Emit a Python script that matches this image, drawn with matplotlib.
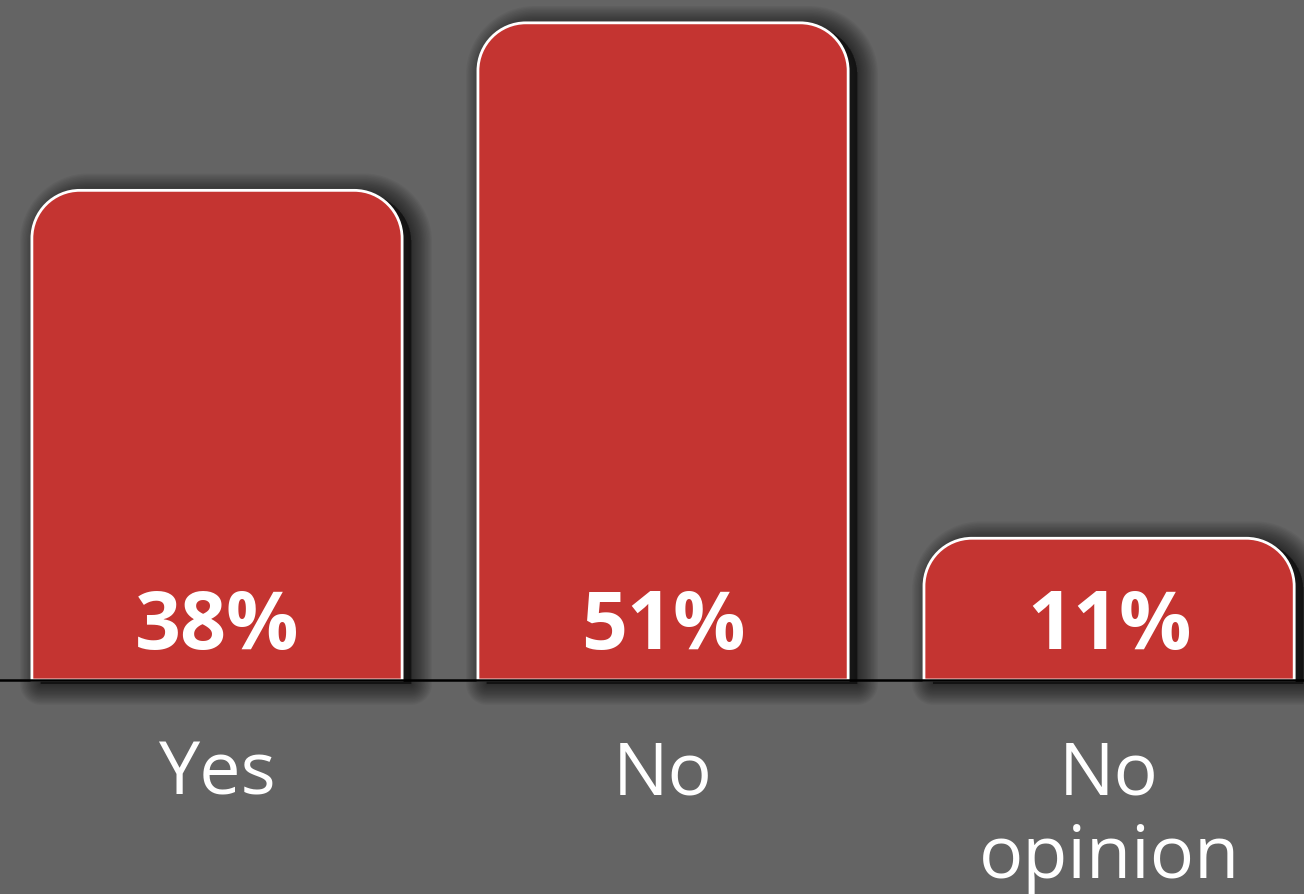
import numpy as np
import matplotlib
matplotlib.use('Agg')
import matplotlib.pyplot as plt
from matplotlib.path import Path
from matplotlib.patches import PathPatch
import matplotlib.transforms as mtransforms

categories = ['Yes', 'No', 'No\nopinion']
values = [38, 51, 11]
value_labels = ['38%', '51%', '11%']

bg = '#646464'
red = '#c43431'

plt.rcParams['font.family'] = ['Open Sans', 'DejaVu Sans']

fig = plt.figure(figsize=(13.04, 8.95), dpi=100, facecolor=bg)
ax = fig.add_axes([0, 0.2391, 1, 0.7609])
ax.set_facecolor(bg)

x = np.arange(len(categories))
bars = ax.bar(x, values, width=0.83)
ax.set_xlim(-0.4865, 2.437)
ax.set_ylim(0, 52.85)
for s in ['top', 'left', 'right']:
    ax.spines[s].set_visible(False)
ax.spines['bottom'].set_color('black')
ax.spines['bottom'].set_linewidth(1.8)
ax.spines['bottom'].set_zorder(5)
ax.set_xticks([])
ax.set_yticks([])

# pixel size of one data unit, used for round corners
p0 = ax.transData.transform((0, 0))
p1 = ax.transData.transform((1, 1))
r_px = 48
rx = r_px / (p1[0] - p0[0])
ry = r_px / (p1[1] - p0[1])
k = 0.5523


def rounded_top(x0, w, h):
    x1 = x0 + w
    verts = [
        (x0, 0), (x0, h - ry),
        (x0, h - ry + k * ry), (x0 + rx - k * rx, h), (x0 + rx, h),
        (x1 - rx, h),
        (x1 - rx + k * rx, h), (x1, h - ry + k * ry), (x1, h - ry),
        (x1, 0), (x0, 0),
    ]
    codes = [Path.MOVETO, Path.LINETO,
             Path.CURVE4, Path.CURVE4, Path.CURVE4,
             Path.LINETO,
             Path.CURVE4, Path.CURVE4, Path.CURVE4,
             Path.LINETO, Path.CLOSEPOLY]
    return Path(verts, codes)


shadow_tr = mtransforms.offset_copy(ax.transData, fig, x=9, y=-4, units='dots')

for b in bars:
    b.set_visible(False)
    path = rounded_top(b.get_x(), b.get_width(), b.get_height())
    # soft shadow built from stacked strokes
    for lw in range(30, 0, -2):
        ax.add_patch(PathPatch(path, facecolor='black', edgecolor='black',
                               alpha=0.045, lw=lw, transform=shadow_tr,
                               clip_on=False, zorder=1, joinstyle='round'))
    ax.add_patch(PathPatch(path, facecolor=red, edgecolor='white', lw=2,
                           zorder=3, clip_on=False))

for xi, v, lab in zip(x, values, value_labels):
    ax.text(xi, 2.48, lab, ha='center', va='baseline', color='white',
            fontsize=58, fontweight='bold', zorder=6)

for xi, cat in zip(x, categories):
    ax.text(xi, -4.43, cat, ha='center', va='top', color='white',
            fontsize=53, linespacing=1.18, clip_on=False)

fig.savefig('out.png', dpi=100, facecolor=bg)
